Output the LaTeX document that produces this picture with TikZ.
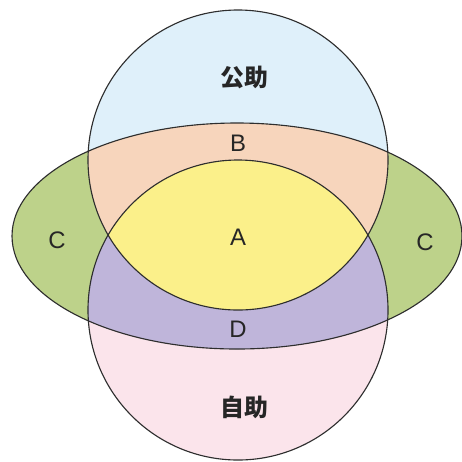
\documentclass[tikz,border=0pt]{standalone}
\usepackage{fontspec}
\setmainfont{Liberation Sans}
\newfontfamily\cjk{Noto Sans CJK JP}
\definecolor{kojoblue}{HTML}{DFF0FA}
\definecolor{jijopink}{HTML}{FBE4EB}
\definecolor{ringgreen}{HTML}{BDD28A}
\definecolor{bpeach}{HTML}{F7D5BC}
\definecolor{dlilac}{HTML}{BFB5DA}
\definecolor{ayellow}{HTML}{FBF08A}
\definecolor{rim}{HTML}{2E2E2E}

\begin{document}
\begin{tikzpicture}[
  x=0.25mm,y=-0.25mm,
  rimline/.style={draw=rim,line width=0.8pt},
  letter/.style={font=\fontsize{17}{20}\selectfont,text=black!85},
  kanji/.style={font=\cjk\bfseries\fontsize{17}{20}\selectfont,text=black!85},
]
\useasboundingbox (0,0) rectangle (462,461);

%% ---------------------------------------------------------------- shapes
\def\topcirc{(238,160) circle (150)}
\def\botcirc{(238,310) circle (150)}
\def\ring{(237,236) ellipse [x radius=225,y radius=113]}

\fill[kojoblue] \topcirc;
\fill[jijopink] \botcirc;
\fill[ringgreen] \ring;
\begin{scope}
  \clip \ring;
  \fill[bpeach] \topcirc;
  \fill[dlilac] \botcirc;
\end{scope}
\begin{scope}
  \clip \topcirc;
  \fill[ayellow] \botcirc;
\end{scope}

\draw[rimline] \topcirc;
\draw[rimline] \botcirc;
\draw[rimline] \ring;

%% ---------------------------------------------------------------- labels
\node[kanji] (kojo) at (244,77) {公助};
\node[letter] (lb) at (238,143) {B};
\node[letter] (la) at (238,237) {A};
\node[letter] (lcl) at (57,240) {C};
\node[letter] (lcr) at (425,242) {C};
\node[letter] (ld) at (238,329) {D};
\node[kanji] (jijo) at (244,407) {自助};

\end{tikzpicture}
\end{document}
